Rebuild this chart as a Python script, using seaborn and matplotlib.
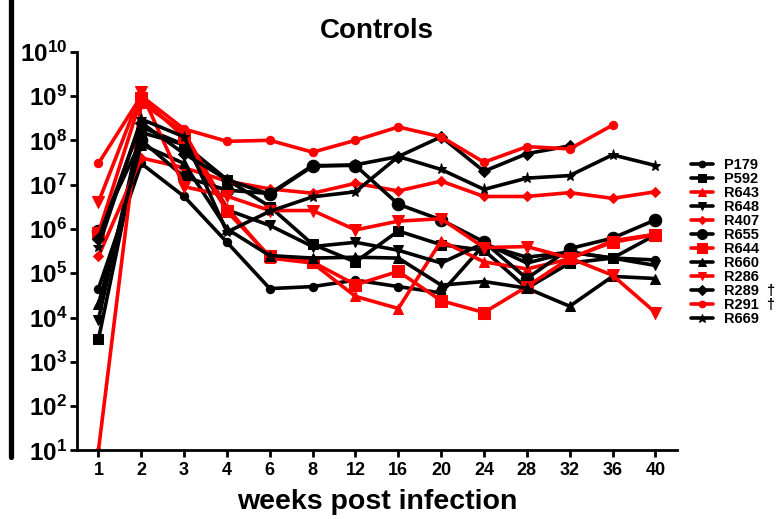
import numpy as np
import pandas as pd
import matplotlib
matplotlib.use("Agg")
import matplotlib.pyplot as plt
from matplotlib.lines import Line2D
import seaborn as sns

nan = np.nan

weeks = [1, 2, 3, 4, 6, 8, 12, 16, 20, 24, 28, 32, 36, 40]

P179 = [4.5e4, 3e7, 5.4e6, 5e5, 4.5e4, 5e4, 7e4, 5e4, 3.6e4, 4.4e5, 2.3e5, 3e5, 2.2e5, 2e5]
P592 = [3.2e3, 1.5e8, 8e7, 1.3e7, 3.2e6, 4.5e5, 1.8e5, 9e5, 4.4e5, 3.3e5, 4.6e4, 1.7e5, 2.2e5, 7.3e5]
R643 = [1e1, 7e8, 1.5e8, 3e6, 2.2e5, 1.7e5, 3e4, 1.6e4, 5.4e5, 1.8e5, 1.25e5, 2.1e5, 5.4e5, 7.6e5]
R648 = [9e3, 2e8, 8e7, 2.7e6, 1.2e6, 4e5, 5e5, 3.3e5, 1.7e5, 4.8e5, 1.7e5, 3e5, 2.2e5, 1.5e5]
R407 = [2.4e5, 4e7, 2.4e7, 1.2e7, 8e6, 6.4e6, 1.07e7, 7.2e6, 1.2e7, 5.4e6, 5.4e6, 6.6e6, 4.9e6, 6.9e6]
R655 = [9e5, 1e8, 1.5e7, 7.5e6, 6.3e6, 2.7e7, 2.7e7, 3.6e6, 1.6e6, 5.1e5, 7.6e4, 3.6e5, 6.2e5, 1.6e6]
R644 = [8e5, 9e8, 1.2e8, 2.5e6, 2.4e5, 1.8e5, 5.5e4, 1.1e5, 2.4e4, 1.3e4, 5e4, 2.2e5, 5e5, 7.4e5]
R660 = [2e4, 8e7, 3e7, 1e6, 2.5e5, 2.2e5, 2.3e5, 2.2e5, 5.4e4, 6.5e4, 4.6e4, 1.8e4, 8.5e4, 7.6e4]
R286 = [4e6, 1.2e9, 9e6, 5.5e6, 2.6e6, 2.6e6, 9.5e5, 1.5e6, 1.7e6, 3.8e5, 4e5, 2.2e5, 9e4, 1.3e4]
R289 = [6e5, 2.5e8, 5e7, 1.3e7, 6e6, 2.6e7, 2.8e7, 4.3e7, 1.2e8, 2e7, 5e7, 7.5e7, nan, nan]
R291 = [3e7, 1e9, 1.8e8, 9.5e7, 1e8, 5.4e7, 1e8, 2e8, 1.2e8, 3.2e7, 7.2e7, 6.4e7, 2.2e8, nan]
R669 = [4e5, 3e8, 1.2e8, 8.5e5, 2.5e6, 5.3e6, 6.9e6, 4.3e7, 2.2e7, 7.8e6, 1.4e7, 1.6e7, 4.7e7, 2.7e7]

animals = ["P179", "P592", "R643", "R648", "R407", "R655",
           "R644", "R660", "R286", "R289", "R291", "R669"]
series = [P179, P592, R643, R648, R407, R655, R644, R660, R286, R289, R291, R669]
labels = ["P179", "P592", "R643", "R648", "R407", "R655",
          "R644", "R660", "R286", "R289  \u2020", "R291  \u2020", "R669"]

# style per animal: colour, marker, marker size
style = {
    "P179": ("black", "o", 6),
    "P592": ("black", "s", 7),
    "R643": ("red", "^", 7),
    "R648": ("black", "v", 7),
    "R407": ("red", "D", 5),
    "R655": ("black", "o", 9),
    "R644": ("red", "s", 9),
    "R660": ("black", "^", 7),
    "R286": ("red", "v", 8),
    "R289": ("black", "D", 6),
    "R291": ("red", "o", 6),
    "R669": ("black", "*", 8),
}

rows = []
for name, vals in zip(animals, series):
    for i, v in enumerate(vals):
        rows.append((name, i, v))
df = pd.DataFrame(rows, columns=["animal", "pos", "value"]).dropna()

sns.set_style("ticks")
plt.rcParams["font.family"] = ["Liberation Sans", "DejaVu Sans"]
plt.rcParams["font.weight"] = "bold"
plt.rcParams["text.color"] = "black"
plt.rcParams["axes.labelcolor"] = "black"
plt.rcParams["xtick.color"] = "black"
plt.rcParams["ytick.color"] = "black"
plt.rcParams["axes.edgecolor"] = "black"
plt.rcParams["mathtext.fontset"] = "custom"
plt.rcParams["mathtext.rm"] = "Liberation Sans:bold"
plt.rcParams["mathtext.bf"] = "Liberation Sans:bold"

fig = plt.figure(figsize=(7.81, 5.19), dpi=100)
ax = fig.add_axes([0.0986, 0.132, 0.768, 0.7684])

for name, lab in zip(animals, labels):
    c, m, ms = style[name]
    sub = df[df["animal"] == name]
    sns.lineplot(data=sub, x="pos", y="value", ax=ax, color=c, marker=m,
                 markersize=ms, markeredgecolor=c, linewidth=2.6,
                 estimator=None, label=lab)

ax.set_yscale("log")
ax.set_ylim(10, 1e10)
ax.set_xlim(-0.5, 13.5)
ax.set_yticks([10.0 ** k for k in range(1, 11)])
ax.set_yticklabels([r"$\mathbf{10^{%d}}$" % k for k in range(1, 11)], fontsize=17.5)
ax.yaxis.set_minor_locator(matplotlib.ticker.NullLocator())
ax.set_xticks(range(len(weeks)))
ax.set_xticklabels([str(w) for w in weeks], fontsize=13, fontweight="bold")
ax.set_xlabel("weeks post infection", fontsize=20.5, fontweight="bold", labelpad=7)
ax.set_ylabel("")
ax.set_title("Controls", fontsize=20, fontweight="bold", pad=10)

for s in ["top", "right"]:
    ax.spines[s].set_visible(False)
for s in ["left", "bottom"]:
    ax.spines[s].set_linewidth(2)
ax.tick_params(axis="both", width=2, length=5, color="black")
ax.tick_params(axis="y", pad=2)

leg = ax.legend(loc="upper left", bbox_to_anchor=(685 / 781, 1 - 152 / 519),
                bbox_transform=fig.transFigure, frameon=False, fontsize=10.5,
                handlelength=1.5, labelspacing=0.0, handletextpad=0.8,
                borderaxespad=0, markerscale=0.8)
for t in leg.get_texts():
    t.set_fontweight("bold")

# the heavy bar at the far left edge
fig.add_artist(Line2D([11 / 781, 11 / 781], [1 - 457 / 519, 1.0],
                      transform=fig.transFigure, color="black", linewidth=3.8))

fig.savefig("out.png", dpi=100)
